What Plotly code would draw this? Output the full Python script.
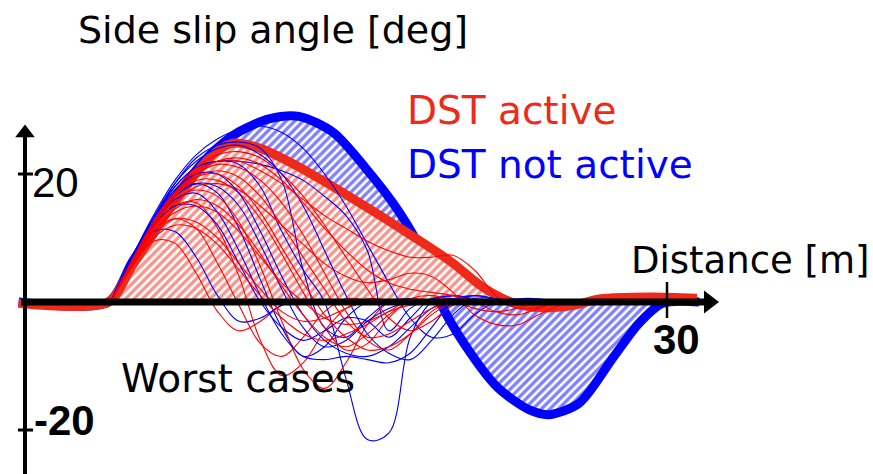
import plotly.graph_objects as go

# ---------------------------------------------------------------- data
# Envelope of all runs (thick outline + hatched area)
BLUE_ENV_X = [-0.3, 3.9, 5.0, 5.8, 6.6, 7.4, 8.2, 9.0, 10.0, 11.4, 12.8, 14.4, 15.9,
              17.5, 18.6, 19.4, 20.5, 22.1, 23.6, 24.5, 25.9, 27.5, 28.7, 29.8, 31.5]
BLUE_ENV_Y = [0.0, 0.0, 6.2, 10.3, 14.4, 18.0, 21.4, 24.1, 26.6, 28.6, 29.0, 26.5, 21.0,
              14.0, 7.5, 0.0, -6.4, -13.4, -16.9, -17.6, -15.8, -8.6, -3.3, -0.2, 0.0]

RED_ENV_X = [-0.3, 3.9, 5.0, 5.8, 6.6, 7.4, 8.2, 9.0, 9.7, 11.0, 12.8, 15.2, 17.5,
             19.9, 21.4, 22.8, 24.1, 25.5, 26.9, 29.2, 31.4]
RED_ENV_Y = [-0.2, 0.0, 5.6, 9.6, 13.8, 17.4, 21.0, 23.6, 24.8, 24.0, 21.1, 16.4, 11.6,
             6.3, 2.3, -0.1, -0.9, -0.6, 0.5, 0.8, 0.6]

# Individual worst-case runs, sampled every metre
RUN_X = [4, 5, 6, 7, 8, 9, 10, 11, 12, 13, 14, 15, 16, 17, 18, 19, 20, 21, 22, 23, 24, 25, 26]

RED_RUN_1 = [0, 5.5, 9.5, 9.2, 4.5, -1.5, -4.5, -3.0, -0.5, 0.3, 0, 0, 0, 0, 0, 0, 0, 0, 0, 0, 0, 0, 0]
RED_RUN_2 = [0, 6.0, 11.0, 13.0, 11.5, 6.0, -0.5, -6.5, -8.5, -5.5, -1.5, 0.5, 0.3, 0, 0, 0, 0, 0, 0, 0, 0, 0, 0]
RED_RUN_3 = [0, 6.2, 11.5, 15.0, 15.5, 11.5, 4.0, -6.0, -11.5, -9.5, -4.5, -1.0, 0.5, 0.3, 0, 0, 0, 0, 0, 0, 0, 0, 0]
RED_RUN_4 = [0, 6.5, 12.0, 16.0, 17.5, 16.5, 12.5, 5.5, -3.0, -10.5, -13.5, -9.5, -3.5, 0, 0.5, 0.2, 0, 0, 0, 0, 0, 0, 0]
RED_RUN_5 = [0, 6.4, 12.0, 16.5, 19.0, 19.0, 17.0, 13.0, 7.5, 1.5, -4.0, -7.5, -6.5, -2.5, 0.3, 0.3, 0, 0, 0, 0, 0, 0, 0]
RED_RUN_6 = [0, 6.0, 12.0, 17.0, 20.0, 21.5, 21.0, 19.0, 15.5, 10.5, 4.5, -1.5, -6.0, -7.5, -5.0, -1.5, 0.2, 0, 0, 0, 0, 0, 0]
RED_RUN_7 = [0, 6.5, 12.5, 17.5, 21.0, 23.0, 23.5, 22.5, 20.0, 16.5, 12.0, 7.0, 2.0, -2.5, -4.5, -3.0, -0.5, 0.3, 0, 0, 0, 0, 0]
RED_RUN_8 = [0, 6.0, 12.0, 17.0, 20.5, 22.0, 22.0, 20.5, 18.5, 16.0, 13.5, 11.5, 9.5, 8.0, 7.0, 7.0, 7.3, 5.0, 1.0, -1.0, -0.8, 0, 0]
RED_RUN_9 = [0, 6.0, 11.5, 15.5, 18.0, 18.5, 17.5, 15.0, 12.0, 9.0, 6.0, 4.0, 3.0, 3.5, 4.5, 4.0, 1.5, -2.0, -3.5, -3.6, -2.0, -0.5, 0]
RED_RUN_10 = [0, 6.0, 11.0, 14.0, 15.0, 14.0, 11.0, 7.0, 3.0, 0.0, -2.5, -3.5, -3.0, -1.5, 0.5, 1.0, 0.2, -1.0, -1.5, -1.0, 0, 0, 0]
RED_RUN_11 = [0, 5.5, 10.0, 12.0, 11.5, 9.0, 5.0, 1.0, -2.5, -5.0, -6.0, -5.0, -3.5, -1.5, -0.5, 0, 0, 0, 0, 0, 0, 0, 0]
RED_RUN_12 = [0, 6.5, 12.5, 17.0, 19.5, 20.0, 18.0, 14.0, 8.5, 3.0, -2.0, -5.5, -7.5, -7.0, -5.0, -2.0, 0, 0.3, 0, 0, 0, 0, 0]
RED_RUN_13 = [0, 6.0, 11.0, 14.5, 16.0, 15.0, 12.0, 7.5, 2.5, -2.0, -5.5, -7.0, -5.0, -2.0, 0, 0, 0, 0, 0, 0, 0, 0, 0]
RED_RUN_14 = [0, 6.2, 11.8, 16.5, 19.5, 20.5, 19.5, 16.5, 12.0, 7.0, 2.0, -3.0, -5.5, -5.0, -3.0, -1.0, 0, 0, 0, 0, 0, 0, 0]
RED_RUN_15 = [0, 5.8, 10.5, 13.0, 12.5, 10.0, 6.0, 2.0, -1.5, -3.0, -2.5, -1.0, 0, 0, 0, 0, 0, 0, 0, 0, 0, 0, 0]
RED_RUN_16 = [0, 6.3, 12.2, 16.8, 20.0, 22.0, 22.5, 21.5, 19.0, 15.5, 11.5, 8.0, 5.0, 3.0, 2.0, 1.5, 1.0, 0, -1.5, -2.0, -1.0, 0, 0]

BLUE_RUN_1 = [0, 6.5, 11.0, 11.0, 7.0, 1.0, -3.0, -2.5, -0.5, 0.3, 0, 0, 0, 0, 0, 0, 0, 0, 0, 0, 0, 0, 0]
BLUE_RUN_2 = [0, 7.0, 13.0, 17.0, 18.5, 17.0, 11.5, 3.5, -4.0, -8.5, -7.0, -2.5, 0, 0.3, 0, 0, 0, 0, 0, 0, 0, 0, 0]
BLUE_RUN_3 = [0, 7.0, 13.0, 18.0, 21.0, 22.0, 21.5, 18.0, 11.0, 5.0, 0.0, -12.0, -21.5, -20.5, -5.5, 0, 1.0, 0.3, 0, 0, 0, 0, 0]
BLUE_RUN_4 = [0, 7.0, 13.0, 18.5, 22.5, 24.5, 25.0, 24.0, 19.0, 5.0, -4.0, -5.5, -2.5, 0, 0.5, 0, 0, 0, 0, 0, 0, 0, 0]
BLUE_RUN_5 = [0, 7.0, 13.0, 18.0, 21.0, 22.0, 22.0, 21.5, 20.5, 19.0, 16.5, 13.5, 8.0, -4.5, -1.0, 0.5, 1.0, 0.5, 0, 0, 0, 0, 0]
BLUE_RUN_6 = [0, 7.0, 13.5, 19.0, 23.0, 25.5, 27.0, 27.5, 26.5, 24.0, 20.0, 15.0, 9.0, 3.0, -2.5, -5.5, -5.0, -2.0, 0, 0.5, 0.5, 0, 0]
BLUE_RUN_7 = [0, 6.5, 12.0, 16.0, 17.0, 14.0, 8.0, 1.0, -5.0, -8.5, -9.0, -8.5, -9.0, -9.5, -8.0, -4.0, 0, 1.0, 0.5, 0, 0, 0, 0]
BLUE_RUN_8 = [0, 6.5, 12.0, 15.0, 15.0, 12.0, 6.0, 0, -4.0, -6.0, -4.5, -2.5, -3.0, -5.5, -2.5, 0.5, 0.5, 0, 0, 0, 0, 0, 0]
BLUE_RUN_9 = [0, 7.0, 13.0, 17.5, 20.0, 20.0, 17.0, 11.0, 4.0, -2.0, -6.0, -8.0, -8.5, -7.0, -4.0, -1.0, 0.5, 1.0, 0.5, 0, 0, 0, 0]
BLUE_RUN_10 = [0, 6.8, 12.5, 16.5, 18.5, 18.0, 15.0, 9.0, 2.0, -4.0, -7.0, -6.0, -3.0, -1.0, 0, 0, 0, 0, 0, 0, 0, 0, 0]
BLUE_RUN_11 = [0, 7.0, 13.2, 18.5, 22.0, 24.0, 24.5, 23.0, 20.0, 15.0, 8.0, 1.0, -5.0, -8.0, -9.0, -6.0, -2.0, 0.5, 0.5, 0, 0, 0, 0]

RED_RUNS = [RED_RUN_1, RED_RUN_2, RED_RUN_3, RED_RUN_4, RED_RUN_5, RED_RUN_6,
            RED_RUN_7, RED_RUN_8, RED_RUN_9, RED_RUN_10, RED_RUN_11, RED_RUN_12,
            RED_RUN_13, RED_RUN_14, RED_RUN_15, RED_RUN_16]
BLUE_RUNS = [BLUE_RUN_1, BLUE_RUN_2, BLUE_RUN_3, BLUE_RUN_4, BLUE_RUN_5, BLUE_RUN_6,
             BLUE_RUN_7, BLUE_RUN_8, BLUE_RUN_9, BLUE_RUN_10, BLUE_RUN_11]

Y_TICKS = [20, -20]
X_TICKS = [30]

# ---------------------------------------------------------------- geometry
W, H = 873, 474
ORIGIN_PX = (25, 302)      # pixel position of (0, 0)
PX_PER_M = 21.4
PX_PER_DEG = 6.4


def dx(px):
    return (px - ORIGIN_PX[0]) / PX_PER_M


def dy(py):
    return (ORIGIN_PX[1] - py) / PX_PER_DEG


RED = "#ee2a1b"
BLUE = "#0000ff"
FONT = "DejaVu Sans"
NUM_FONT = "Liberation Sans"

fig = go.Figure()

# envelopes: hatched area + heavy outline
fig.add_trace(go.Scatter(
    x=BLUE_ENV_X, y=BLUE_ENV_Y, mode="lines", fill="tozeroy",
    line=dict(color=BLUE, width=9, shape="spline", smoothing=0.8),
    fillcolor="rgba(0,0,0,0)",
    fillpattern=dict(shape="/", fgcolor=BLUE, bgcolor="white", size=6, solidity=0.55),
    hoverinfo="skip", showlegend=False))
fig.add_trace(go.Scatter(
    x=RED_ENV_X, y=RED_ENV_Y, mode="lines", fill="tozeroy",
    line=dict(color=RED, width=9, shape="spline", smoothing=0.8),
    fillcolor="rgba(0,0,0,0)",
    fillpattern=dict(shape="/", fgcolor=RED, bgcolor="white", size=6, solidity=0.55),
    hoverinfo="skip", showlegend=False))

# single runs
for i in range(max(len(RED_RUNS), len(BLUE_RUNS))):
    if i < len(RED_RUNS):
        fig.add_trace(go.Scatter(x=RUN_X, y=RED_RUNS[i], mode="lines",
                                 line=dict(color="#ff0000", width=1.1, shape="spline", smoothing=1.0),
                                 hoverinfo="skip", showlegend=False))
    if i < len(BLUE_RUNS):
        fig.add_trace(go.Scatter(x=RUN_X, y=BLUE_RUNS[i], mode="lines",
                                 line=dict(color=BLUE, width=1.1, shape="spline", smoothing=1.0),
                                 hoverinfo="skip", showlegend=False))

# axis arrows
shapes = [
    dict(type="line", x0=dx(21), x1=dx(706), y0=0, y1=0,
         line=dict(color="black", width=7)),
    dict(type="line", x0=0, x1=0, y0=dy(H + 5), y1=dy(136),
         line=dict(color="black", width=4)),
]
for t in Y_TICKS:
    shapes.append(dict(type="line", x0=dx(18), x1=dx(33), y0=t, y1=t,
                       line=dict(color="black", width=3)))
for t in X_TICKS:
    shapes.append(dict(type="line", x0=t, x1=t, y0=dy(282), y1=dy(318),
                       line=dict(color="black", width=2.5)))
fig.update_layout(shapes=shapes)

fig.add_trace(go.Scatter(x=[dx(709)], y=[0], mode="markers",
                         marker=dict(symbol="triangle-right", size=20, color="black"),
                         hoverinfo="skip", showlegend=False))
fig.add_trace(go.Scatter(x=[0], y=[dy(133)], mode="markers",
                         marker=dict(symbol="triangle-up", size=17, color="black"),
                         hoverinfo="skip", showlegend=False))


def label(text, px, py, size, color="black", family=FONT):
    fig.add_annotation(text=text, x=px / W, y=1 - py / H, xref="paper", yref="paper",
                       xanchor="left", yanchor="middle", showarrow=False,
                       font=dict(family=family, size=size, color=color))


label("Side slip angle [deg]", 76, 30, 38)
label("DST active", 405, 110, 39, RED)
label("DST not active", 405, 164, 39, BLUE)
label("Distance [m]", 629, 260, 37)
label("Worst cases", 119, 378, 39)
label("20", 30, 182, 42, family=NUM_FONT)
label("<b>-20</b>", 32, 420, 42, family=NUM_FONT)
label("<b>30</b>", 651, 339, 42, family=NUM_FONT)

fig.update_layout(
    width=W, height=H, margin=dict(l=0, r=0, t=0, b=0),
    paper_bgcolor="white", plot_bgcolor="white",
    xaxis=dict(range=[dx(0), dx(W)], visible=False, fixedrange=True),
    yaxis=dict(range=[dy(H), dy(0)], visible=False, fixedrange=True),
)

fig.write_html("out.html")
